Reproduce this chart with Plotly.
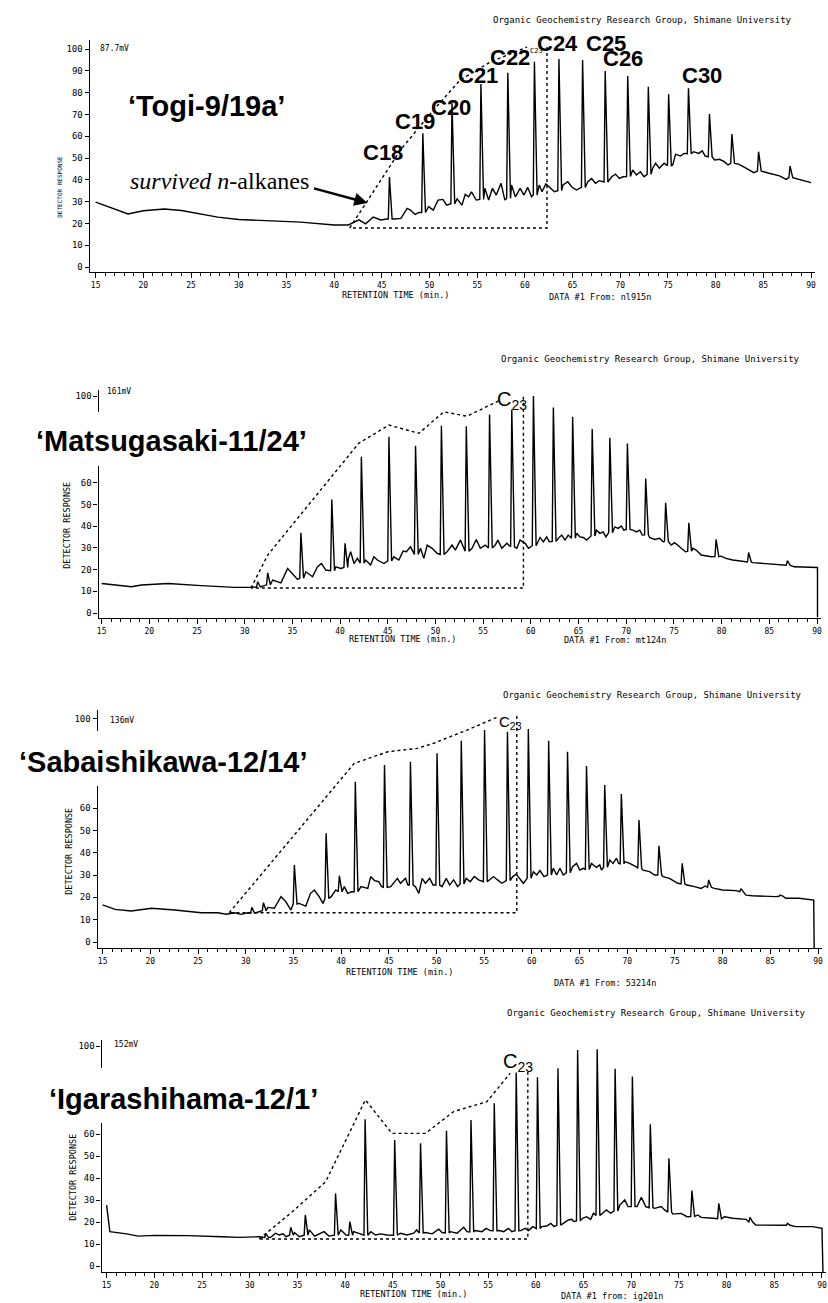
import plotly.graph_objects as go

W, H = 828, 1303

# ------------------------------------------------------------------ data
# Panel 1  'Togi-9/19a'  (retention time [min], detector response [%])
BASE1_T = [15.0, 16.5, 18.4, 20.0, 22.2, 24.0, 26.0, 27.8, 30.0, 33.1, 36.5, 40.0, 41.5, 42.6, 43.3, 44.1, 44.9, 45.5,
           46.3, 47.0, 47.66, 48.0, 48.5, 48.9, 49.9, 50.4, 50.9, 51.4, 51.8, 52.9, 53.4, 53.75, 54.1, 54.4, 54.9,
           55.8, 56.2, 56.6, 57.0, 57.5, 57.9, 58.6, 59.0, 59.5, 59.9, 60.3, 60.7, 61.5, 61.8, 62.2, 62.7, 63.1,
           64.0, 64.5, 64.9, 65.4, 66.6, 67.0, 67.4, 67.8, 69.1, 69.5, 69.9, 70.3, 71.3, 71.7, 72.1, 72.5,
           73.4, 73.7, 74.1, 74.6, 75.5, 75.8, 76.3, 76.7, 77.7, 78.2, 78.6, 78.9, 79.9, 80.4, 80.9, 81.3,
           82.4, 82.9, 83.6, 84.0, 85.1, 85.6, 86.7, 87.4, 88.4, 89.1, 90.0]
BASE1_V = [29.8, 27.5, 24.3, 25.8, 26.6, 25.9, 24.2, 22.9, 21.8, 21.1, 20.6, 19.3, 19.3, 21.6, 19.8, 22.9, 21.6, 22.0,
           22.0, 22.3, 26.9, 26.1, 24.1, 25.0, 27.7, 26.1, 30.7, 31.0, 28.4, 31.3, 28.4, 33.3, 32.2, 34.5, 30.7,
           36.1, 30.7, 36.1, 33.0, 38.4, 30.7, 37.6, 32.2, 36.1, 33.0, 36.5, 32.2, 37.6, 34.5, 38.1, 36.1, 34.5,
           37.6, 39.1, 36.8, 35.3, 39.1, 40.6, 38.4, 39.6, 41.4, 42.6, 40.6, 41.4, 44.5, 42.2, 43.7, 41.4,
           45.3, 47.6, 45.3, 47.6, 46.8, 51.8, 50.9, 52.1, 52.9, 52.1, 53.3, 50.9, 49.1, 49.4, 48.3, 46.8,
           47.2, 46.0, 44.5, 43.3, 43.7, 43.0, 41.8, 40.2, 40.6, 39.9, 38.7]
PEAK1_T = [45.8, 49.3, 52.36, 55.39, 58.21, 61.0, 63.57, 66.05, 68.42, 70.78, 72.94, 75.07, 77.15, 79.35, 81.7, 84.5, 87.8]
PEAK1_H = [41.3, 61.3, 75.1, 83.9, 89.1, 94.2, 95.4, 95.0, 89.9, 87.6, 82.7, 79.2, 82.0, 70.2, 61.0, 52.9, 46.3]
PEAK1_F = [22.0, 25.0, 29.0, 31.0, 31.5, 33.0, 35.0, 36.5, 39.0, 41.5, 42.5, 46.5, 52.0, 50.5, 47.5, 44.0, 41.0]
ENV1_T = [41.64, 46.96, 50.41, 53.23, 56.37, 60.23, None, 62.32, 62.32, 41.64]
ENV1_V = [17.9, 53.7, 72.0, 85.8, 94.0, 100.9, None, 100.9, 17.9, 17.9]
LAB1_TEXT = ["C18", "C19", "C20", "C21", "C22", "C24", "C25", "C26", "C30"]

# Panel 2  'Matsugasaki-11/24'
BASE2_T = [15.0, 18.13, 19.17, 21.96, 25.44, 28.92, 30.49, 31.88, 32.93, 33.8, 34.5, 35.02, 35.54, 36.41, 37.11,
           37.63, 38.05, 38.5, 39.55, 40.07, 40.87, 41.11, 41.46, 41.81, 42.68, 43.2, 43.55, 43.9, 44.6, 45.64,
           46.16, 46.6, 46.95, 47.38, 48.43, 48.78, 49.13, 49.65, 50.17, 51.21, 51.74, 52.08, 52.61, 53.83, 54.28,
           54.7, 55.22, 56.26, 56.54, 56.96, 57.48, 58.53, 58.87, 59.4, 59.75, 60.96, 61.31, 61.66, 61.94,
           62.88, 63.23, 63.58, 63.92, 64.79, 65.14, 65.49, 65.84, 66.88, 67.23, 67.58, 67.86, 68.8, 69.15,
           69.49, 69.74, 70.71, 71.06, 71.41, 71.69, 72.45, 72.98, 73.5, 73.85, 74.72, 75.07, 75.59, 76.21,
           76.98, 77.33, 77.85, 78.9, 79.94, 80.46, 81.16, 82.55, 83.25, 84.64, 86.38, 87.6, 88.47, 90.05, 90.05]
BASE2_V = [13.6, 12.1, 12.9, 13.6, 12.6, 11.8, 11.8, 12.4, 15.2, 13.9, 20.5, 18.2, 15.5, 19.0, 16.7,
           21.3, 22.8, 19.8, 21.3, 20.5, 25.2, 28.2, 22.8, 25.2, 24.4, 22.1, 25.9, 24.4, 22.8, 25.9,
           24.4, 28.5, 28.2, 30.5, 29.8, 25.2, 31.3, 29.8, 27.5, 28.2, 31.3, 29.0, 33.6, 29.8, 33.9,
           29.8, 31.3, 31.3, 33.6, 29.8, 32.1, 29.8, 33.6, 32.1, 29.8, 34.8, 32.8, 35.1, 32.8,
           34.4, 35.9, 33.6, 35.9, 36.7, 35.1, 34.8, 33.6, 38.2, 36.7, 37.4, 35.1, 39.7, 39.0,
           40.1, 38.2, 38.2, 37.4, 38.2, 35.9, 34.8, 33.9, 34.4, 32.8, 31.3, 32.4, 30.5, 28.2,
           29.8, 29.0, 26.7, 25.9, 26.2, 25.2, 24.4, 23.6, 23.2, 22.8, 22.1, 21.3, 21.3, 21.0, -2.0]
PEAK2_T = [31.36, 32.41, 35.89, 39.13, 40.52, 42.23, 45.12, 47.91, 50.62, 53.23, 55.67, 58.0, 60.27, 62.36, 64.38,
           66.43, 68.28, 70.12, 72.04, 74.13, 76.56, 79.42, 82.83, 86.9]
PEAK2_H = [14.4, 18.5, 37.0, 52.3, 32.1, 72.0, 81.2, 77.1, 86.3, 86.1, 91.5, 93.8, 100.0, 94.7, 90.4,
           84.8, 80.8, 78.1, 62.0, 50.8, 41.6, 33.9, 27.9, 24.1]
PEAK2_F = [12.0, 13.0, 16.0, 19.5, 21.0, 23.0, 24.0, 27.0, 27.0, 28.5, 30.0, 30.5, 31.0, 33.0, 34.5,
           35.5, 37.0, 38.5, 36.0, 33.0, 28.5, 26.0, 23.5, 22.0]
ENV2_T = [30.66, 32.41, 41.95, 45.12, 48.26, 50.87, 53.3, 56.8, None, 59.22, 59.22, 30.66]
ENV2_V = [11.5, 26.7, 78.2, 86.6, 82.8, 92.7, 90.7, 98.1, None, 99.7, 11.5, 11.5]

# Panel 3  'Sabaishikawa-12/14'
BASE3_T = [15.0, 16.3, 18.0, 20.12, 22.56, 25.34, 27.08, 27.96, 28.83, 29.52, 30.22, 31.09, 32.31, 33.0, 33.7,
           34.2, 34.74, 35.6, 36.3, 36.8, 37.2, 37.7, 38.1, 38.96, 39.45, 40.34, 40.7, 41.1, 42.08, 42.8,
           43.1, 43.5, 43.96, 44.25, 45.2, 45.9, 46.23, 46.75, 47.0, 47.8, 48.15, 48.5, 48.84, 49.29, 49.64,
           50.58, 51.03, 51.38, 51.8, 52.22, 53.12, 53.54, 53.96, 54.41, 55.56, 55.98, 56.4, 56.85, 58.0,
           58.35, 58.7, 59.11, 60.16, 60.51, 60.85, 61.27, 62.25, 62.6, 62.94, 63.29, 64.27, 64.68, 65.03,
           65.38, 66.25, 66.77, 67.12, 67.3, 68.17, 68.51, 68.86, 69.1, 69.73, 70.25, 70.6, 70.95, 71.65,
           72.34, 72.87, 73.74, 74.43, 75.3, 76.24, 77.05, 77.74, 78.2, 79.13, 80.0, 81.4, 82.44, 83.14,
           84.53, 85.58, 86.62, 88.01, 89.55, 89.6]
BASE3_V = [16.6, 14.6, 13.9, 15.1, 14.3, 13.1, 13.1, 12.4, 13.1, 12.4, 13.1, 13.1, 15.5, 15.1, 20.3,
           18.1, 14.3, 17.3, 16.1, 21.8, 23.3, 20.3, 17.3, 20.3, 23.3, 24.8, 21.8, 22.5, 24.8, 24.0,
           29.3, 27.5, 27.0, 24.8, 24.8, 28.5, 26.3, 28.5, 25.5, 24.8, 21.8, 28.5, 26.3, 28.5, 25.5,
           24.8, 28.5, 25.5, 27.8, 24.8, 28.5, 27.0, 29.3, 27.8, 27.8, 29.3, 27.8, 26.3, 29.3,
           30.4, 28.5, 26.3, 31.5, 30.0, 32.0, 29.3, 33.0, 30.0, 33.0, 30.0, 33.7, 35.2, 32.2,
           33.0, 35.2, 33.4, 34.5, 32.2, 36.7, 35.2, 37.5, 35.2, 36.0, 35.2, 34.5, 33.7, 32.2,
           31.5, 30.0, 29.3, 28.5, 26.3, 25.5, 24.8, 24.0, 25.1, 24.0, 23.3, 23.0, 21.0, 20.7,
           20.3, 20.3, 19.6, 19.6, 18.8, -2.7]
PEAK3_T = [30.64, 31.86, 35.1, 38.43, 39.82, 41.49, 44.55, 47.27, 50.06, 52.6, 55.04, 57.44, 59.63, 61.76, 63.74,
           65.73, 67.64, 69.38, 71.23, 73.32, 75.76, 78.54, 81.92, 86.03]
PEAK3_H = [15.5, 17.6, 34.5, 48.7, 29.6, 71.8, 79.3, 80.7, 84.5, 90.1, 94.9, 94.2, 95.4, 90.1, 85.2,
           78.8, 70.3, 66.3, 54.6, 43.1, 35.2, 27.8, 23.9, 21.0]
PEAK3_F = [13.0, 14.0, 17.0, 19.5, 22.5, 22.5, 24.5, 25.5, 25.5, 26.0, 27.0, 27.5, 28.5, 30.0, 31.0,
           32.5, 33.5, 35.0, 33.0, 30.0, 26.0, 24.5, 22.5, 20.5]
ENV3_T = [28.27, 41.38, 44.9, 47.98, 49.7, 53.2, 56.33, None, 58.42, 58.42, 28.27]
ENV3_V = [13.1, 80.0, 85.2, 86.7, 89.0, 94.9, 100.6, None, 101.2, 13.1, 13.1]

# Panel 4  'Igarashihama-12/1'
BASE4_T = [15.0, 15.34, 17.1, 18.3, 20.1, 23.5, 27.1, 28.8, 31.0, 32.2, 32.7, 33.1, 33.5, 33.8, 34.7, 35.2,
           36.25, 36.8, 37.5, 37.8, 38.3, 39.55, 40.1, 40.9, 41.6, 42.7, 43.2, 43.7, 44.4, 45.8, 46.5, 47.2,
           47.5, 48.43, 49.13, 49.82, 50.17, 51.04, 51.74, 52.44, 52.78, 53.65, 54.35, 54.8, 55.22, 56.2,
           56.62, 57.14, 57.48, 58.42, 58.88, 59.23, 59.68, 60.62, 61.14, 61.56, 61.91, 62.88, 63.4, 63.75,
           64.0, 64.9, 65.32, 65.74, 66.05, 66.99, 67.41, 67.83, 68.8, 69.32, 69.67, 70.61, 71.06, 71.52,
           72.46, 73.15, 73.5, 74.37, 75.24, 75.83, 76.98, 77.33, 78.55, 79.77, 80.64, 82.03, 83.07, 84.82,
           87.25, 89.0, 90.0, 90.1]
BASE4_V = [27.7, 15.6, 14.6, 13.6, 13.9, 13.8, 13.3, 13.0, 13.3, 13.0, 14.9, 14.1, 14.6, 13.3, 15.2, 13.3,
           16.4, 13.6, 14.9, 15.6, 13.6, 16.4, 14.1, 15.6, 14.6, 15.6, 14.1, 14.6, 14.1, 14.9, 14.1, 14.9,
           16.4, 15.2, 14.6, 16.7, 15.2, 15.6, 14.9, 17.6, 15.6, 16.1, 15.6, 17.1, 16.1, 16.1,
           15.6, 17.1, 15.6, 16.1, 17.1, 16.1, 17.9, 17.9, 18.2, 19.4, 17.9, 19.4, 20.9, 21.2,
           20.2, 21.7, 22.4, 21.2, 24.0, 24.0, 25.5, 24.0, 27.7, 30.0, 27.0, 27.0, 31.2, 27.0,
           26.2, 27.0, 25.5, 23.6, 23.9, 22.4, 23.2, 22.1, 21.7, 22.4, 21.7, 21.2, 18.6, 18.6,
           17.9, 17.9, 17.1, -2.7]
PEAK4_T = [31.7, 34.3, 35.83, 39.0, 40.5, 42.1, 45.2, 47.91, 50.63, 53.2, 55.64, 57.94, 60.17, 62.32, 64.38,
           66.43, 68.31, 70.12, 72.0, 73.95, 76.36, 79.18, 82.45, 86.38]
PEAK4_H = [14.6, 17.6, 23.2, 33.0, 20.2, 66.7, 57.3, 55.8, 61.5, 66.4, 74.0, 87.9, 85.8, 89.9, 98.2,
           98.5, 89.6, 86.1, 64.4, 49.0, 34.3, 28.5, 22.1, 19.4]
PEAK4_F = [13.0, 14.0, 14.0, 14.0, 14.0, 14.0, 14.0, 15.0, 15.0, 15.5, 16.0, 16.0, 17.0, 18.5, 20.5,
           23.0, 25.0, 27.0, 26.5, 24.5, 22.5, 21.5, 20.0, 18.5]
ENV4_T = [31.0, 34.3, 37.96, 42.13, 44.91, 48.43, 51.39, 54.87, 57.3, None, 59.16, 59.16, 31.0]
ENV4_V = [12.3, 24.0, 38.3, 75.5, 60.3, 60.3, 70.2, 74.7, 87.6, None, 88.3, 12.3, 12.3]

TITLES = ["‘Togi-9/19a’", "‘Matsugasaki-11/24’", "‘Sabaishikawa-12/14’", "‘Igarashihama-12/1’"]
MV_LABELS = ["87.7mV", "161mV", "136mV", "152mV"]
DATA_FILES = ["DATA #1 From: nl915n", "DATA #1 From: mt124n", "DATA #1 From: 53214n", "DATA #1 from: ig201n"]
Y_TICKS_FULL = [0, 10, 20, 30, 40, 50, 60, 70, 80, 90, 100]
Y_TICKS_CUT = [0, 10, 20, 30, 40, 50, 60, 100]
CREDIT = "Organic Geochemistry Research Group, Shimane University"
XLABEL = "RETENTION TIME (min.)"
YLABEL = "DETECTOR RESPONSE"

# ------------------------------------------------------------------ helpers
MONO = "DejaVu Sans Mono"
SANS = "Liberation Sans, Arial, sans-serif"
SERIF = "Liberation Serif, Times New Roman, serif"
PPM = 9.573  # pixels per minute


def trace_points(bt, bv, pt, ph, pf):
    pts = list(zip(bt, bv))
    for t, h, f in zip(pt, ph, pf):
        pts += [(t - 0.12, f), (t, h), (t + 0.28, f)]
    pts.sort(key=lambda p: p[0])
    return [p[0] for p in pts], [p[1] for p in pts]


def px(x):
    return x / W


def py(y):
    return 1 - y / H


def txt(x, y, text, size, family=MONO, **kw):
    d = dict(x=px(x), y=py(y), xref="paper", yref="paper", text=text, showarrow=False,
             font=dict(size=size, family=family, color="black"), xanchor="center", yanchor="middle")
    d.update(kw)
    return d


# panel geometry (pixel positions of the printed axes)
GEOM = [
    dict(yax=88, x15=94, y0=267, ppu=2.18, xline=272, top=40),
    dict(yax=97, x15=100, y0=613, ppu=2.17, xline=618, top=390),
    dict(yax=96, x15=101, y0=942, ppu=2.233, xline=948, top=710),
    dict(yax=100, x15=105, y0=1266, ppu=2.2, xline=1272, top=1040),
]

SERIES = [
    (BASE1_T, BASE1_V, PEAK1_T, PEAK1_H, PEAK1_F, ENV1_T, ENV1_V),
    (BASE2_T, BASE2_V, PEAK2_T, PEAK2_H, PEAK2_F, ENV2_T, ENV2_V),
    (BASE3_T, BASE3_V, PEAK3_T, PEAK3_H, PEAK3_F, ENV3_T, ENV3_V),
    (BASE4_T, BASE4_V, PEAK4_T, PEAK4_H, PEAK4_F, ENV4_T, ENV4_V),
]

fig = go.Figure()
layout = dict(width=W, height=H, margin=dict(l=0, r=0, t=0, b=0), paper_bgcolor="white",
              plot_bgcolor="rgba(0,0,0,0)", showlegend=False, autosize=False)

for i, (g, s) in enumerate(zip(GEOM, SERIES), start=1):
    bt, bv, pt, ph, pf, et, ev = s
    xs, ys = trace_points(bt, bv, pt, ph, pf)
    xa, ya = f"x{i}", f"y{i}"
    fig.add_trace(go.Scatter(x=xs, y=ys, mode="lines", line=dict(color="black", width=1.4),
                             xaxis=xa, yaxis=ya, hoverinfo="skip"))
    fig.add_trace(go.Scatter(x=et, y=ev, mode="lines", line=dict(color="black", width=1.4, dash="dot"),
                             xaxis=xa, yaxis=ya, hoverinfo="skip", connectgaps=False))
    x_lo = 15 - (g["x15"] - g["yax"]) / PPM
    x_hi = 90.4
    xdom = [px(g["yax"]), px(g["x15"] + (x_hi - 15) * PPM)]
    ydom = [py(g["xline"]), py(g["top"])]
    yr = [(g["y0"] - g["xline"]) / g["ppu"], (g["y0"] - g["top"]) / g["ppu"]]
    key = "" if i == 1 else str(i)
    layout["xaxis" + key] = dict(domain=xdom, range=[x_lo, x_hi], anchor=ya, showline=True, linecolor="black",
                                 linewidth=1.3, ticks="outside", ticklen=5, tickcolor="black", tickmode="linear",
                                 tick0=15, dtick=5, showgrid=False, zeroline=False, ticklabeloverflow="allow",
                                 tickfont=dict(family=MONO, size=8, color="black"),
                                 minor=dict(dtick=1, tick0=15, ticks="outside", ticklen=2.5, tickcolor="black"))
    layout["yaxis" + key] = dict(domain=ydom, range=yr, anchor=xa, showline=True, linecolor="black",
                                 linewidth=1.3, ticks="outside", ticklen=4, tickcolor="black",
                                 tickvals=Y_TICKS_FULL if i == 1 else Y_TICKS_CUT,
                                 showgrid=False, zeroline=False,
                                 tickfont=dict(family=MONO, size=9, color="black"))

# ------------------------------------------------------------------ annotations
ann = []
shapes = []
credit_pos = [(643, 20), (651, 359), (653, 695), (657, 1013)]
mv_pos = [(113, 48), (117, 392), (120, 720), (124, 1044)]
xl_pos = [(395, 295), (402, 639), (399, 972), (413, 1294)]
df_pos = [(600, 297), (615, 640), (605, 983), (612, 1296)]
yl_pos = [(58, 187, 6), (65, 525, 8.5), (67, 851, 8.5), (71, 1177, 8.5)]
title_pos = [(205, 106), (170, 441), (162, 762), (182, 1099)]
for k in range(4):
    ann.append(txt(*credit_pos[k], CREDIT, 9))
    ann.append(txt(*mv_pos[k], MV_LABELS[k], 8))
    ann.append(txt(*xl_pos[k], XLABEL, 8.5))
    ann.append(txt(*df_pos[k], DATA_FILES[k], 8.5))
    x, y, fs = yl_pos[k]
    ann.append(txt(x, y, YLABEL, fs, textangle=-90))
    ann.append(txt(*title_pos[k], "<b>" + TITLES[k] + "</b>", 29, family=SANS))

# breaks in the printed y-axis behind the sample names
gaps = [(97, 412, 466), (96, 731, 786), (100, 1068, 1123)]
for xa_, y_a, y_b in gaps:
    shapes.append(dict(type="rect", xref="paper", yref="paper", x0=px(xa_ - 7), x1=px(xa_ + 3),
                       y0=py(y_b), y1=py(y_a), fillcolor="white", line=dict(width=0), layer="above"))

# carbon-number labels of panel 1
lab1_pos = [(382, 153), (414, 121), (451, 107), (478, 76), (510, 58), (558, 43), (606, 43), (623, 59), (703, 76)]
for (x, y), t in zip(lab1_pos, LAB1_TEXT):
    ann.append(txt(x, y, "<b>" + t + "</b>", 22, family=SANS))
ann.append(txt(536, 51, "C23", 7))

# C23 labels in panels 2-4
ann.append(txt(512, 401, "C<sub>23</sub>", 20, family=SANS))
ann.append(txt(510, 722, "C<sub>23</sub>", 15, family=SANS))
ann.append(txt(518, 1062, "C<sub>23</sub>", 20, family=SANS))

# survived n-alkanes
ann.append(txt(218, 181, "<i>survived n</i>-alkanes", 24, family=SERIF))
ann.append(dict(x=43.5, y=29.4, xref="x", yref="y", ax=-55, ay=-15, axref="pixel", ayref="pixel",
                text="", showarrow=True, arrowhead=2, arrowsize=1.1, arrowwidth=2.4, arrowcolor="black",
                standoff=0))

layout["annotations"] = ann
layout["shapes"] = shapes
fig.update_layout(**layout)
fig.write_html("out.html", config={"displayModeBar": False},
               post_script="document.body.style.margin='0px';document.body.style.padding='0px';")
